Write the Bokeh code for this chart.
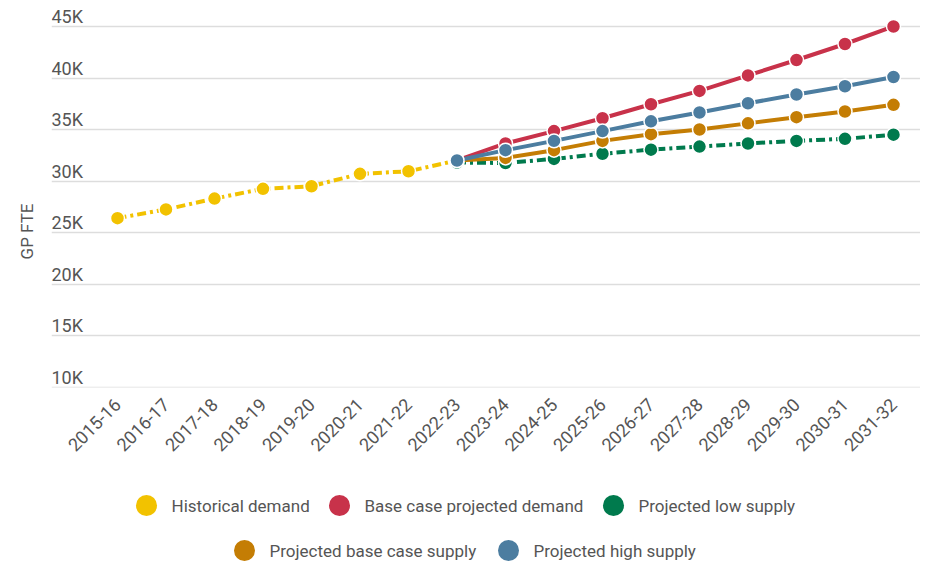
import math
from bokeh.plotting import figure
from bokeh.models import Range1d, FixedTicker, ColumnDataSource
from bokeh.layouts import column, row
from bokeh.core.properties import value
from bokeh.embed import file_html
from bokeh.resources import INLINE

# ---- data ----
years = ["2015-16", "2016-17", "2017-18", "2018-19", "2019-20", "2020-21", "2021-22",
         "2022-23", "2023-24", "2024-25", "2025-26", "2026-27", "2027-28", "2028-29",
         "2029-30", "2030-31", "2031-32"]
historical_years = years[:8]
historical_demand = [26400, 27250, 28300, 29250, 29500, 30700, 30950, 32000]
projected_years = years[7:]
base_case_projected_demand = [32000, 33650, 34850, 36100, 37450, 38750, 40250, 41750, 43300, 45000]
projected_low_supply = [31800, 31750, 32150, 32650, 33050, 33350, 33650, 33900, 34100, 34500]
projected_base_case_supply = [32000, 32250, 33000, 33900, 34550, 35000, 35600, 36200, 36750, 37400]
projected_high_supply = [32000, 33000, 33900, 34850, 35800, 36650, 37550, 38400, 39200, 40100]
y_ticks = [10000, 15000, 20000, 25000, 30000, 35000, 40000, 45000]
y_tick_labels = ["10K", "15K", "20K", "25K", "30K", "35K", "40K", "45K"]
y_title = "GP FTE"

series_names = ["Historical demand", "Base case projected demand", "Projected low supply",
                "Projected base case supply", "Projected high supply"]
series_colors = ["#F2C200", "#C8324A", "#007A4D", "#C47D04", "#4C7DA0"]

FONT = "Roboto"
TXT = "#555555"

idx = {y: i for i, y in enumerate(years)}

TOP_H = 470
TITLE_W = 45
FRAME_TOP, FRAME_BOTTOM = 8, 387

# ---- y-axis title panel (its frame is aligned with the main frame by the row) ----
tfig = figure(width=TITLE_W, height=TOP_H, x_range=Range1d(0, TITLE_W),
              y_range=Range1d(0, FRAME_BOTTOM - FRAME_TOP),
              output_backend="svg", toolbar_location=None,
              min_border_left=0, min_border_right=0, min_border_top=FRAME_TOP,
              min_border_bottom=TOP_H - FRAME_BOTTOM)
tfig.outline_line_color = None
tfig.xaxis.visible = False
tfig.yaxis.visible = False
tfig.grid.visible = False
tfig.text(x=[26], y=[FRAME_BOTTOM - 231], text=[y_title], angle=math.pi / 2,
          text_font=value(FONT), text_font_size="17px", text_color=TXT,
          text_align="center", text_baseline="middle")

# ---- main chart ----
p = figure(width=920 - TITLE_W, height=TOP_H,
           x_range=Range1d(-1.3608, 16.557), y_range=Range1d(9970, 46745),
           output_backend="svg", toolbar_location=None,
           min_border_left=51 - TITLE_W, min_border_right=0, min_border_top=FRAME_TOP,
           min_border_bottom=TOP_H - FRAME_BOTTOM)
p.outline_line_color = None
p.yaxis.visible = False
p.xgrid.visible = False
p.ygrid.ticker = FixedTicker(ticks=y_ticks)
p.ygrid.grid_line_color = "#DDDDDD"
p.ygrid.grid_line_width = 1.5

xa = p.xaxis[0]
xa.ticker = FixedTicker(ticks=list(range(len(years))))
xa.major_label_overrides = {i: y for i, y in enumerate(years)}
xa.major_label_orientation = math.pi / 4
xa.axis_line_color = None
xa.major_tick_line_color = None
xa.minor_tick_line_color = None
xa.major_label_text_font = FONT
xa.major_label_text_font_size = "18px"
xa.major_label_text_color = TXT
xa.major_label_standoff = 8

# y tick labels above gridlines
tick_src = ColumnDataSource(dict(x=[p.x_range.start] * len(y_ticks), y=y_ticks, t=y_tick_labels))
p.text(x="x", y="y", text="t", source=tick_src, text_font=value(FONT), text_font_size="18px",
       text_color=TXT, text_align="left", text_baseline="middle", y_offset=-10)

dash = "9 4 3 4"
all_series = [
    (historical_years, historical_demand, series_colors[0], dash),
    (projected_years, base_case_projected_demand, series_colors[1], "solid"),
    (projected_years, projected_low_supply, series_colors[2], dash),
    (projected_years, projected_base_case_supply, series_colors[3], "solid"),
    (projected_years, projected_high_supply, series_colors[4], "solid"),
]
for yrs, vals, col, ld in all_series:
    src = ColumnDataSource(dict(x=[idx[y] for y in yrs], y=vals))
    p.line("x", "y", source=src, line_color=col, line_width=4, line_dash=ld)
    p.scatter("x", "y", source=src, size=14, fill_color=col, line_color="white", line_width=1.5)

# ---- legend (separate panel, page coordinates) ----
LEG_H = 92
leg = figure(width=920, height=LEG_H, x_range=Range1d(0, 920), y_range=Range1d(TOP_H + LEG_H, TOP_H),
             output_backend="svg", toolbar_location=None,
             min_border_left=0, min_border_right=0, min_border_top=0, min_border_bottom=0)
leg.outline_line_color = None
leg.xaxis.visible = False
leg.yaxis.visible = False
leg.grid.visible = False
leg_x = [146, 339, 613, 244, 508]
leg_y = [505, 505, 505, 550, 550]
lsrc = ColumnDataSource(dict(x=leg_x, y=leg_y, c=series_colors, t=series_names,
                             tx=[v + 25 for v in leg_x]))
leg.scatter("x", "y", source=lsrc, size=21, fill_color="c", line_color=None)
leg.text(x="tx", y="y", text="t", source=lsrc, text_font=value(FONT), text_font_size="17px",
         text_color=TXT, text_align="left", text_baseline="middle")

layout = column(row(tfig, p), leg)
open("out.html", "w").write(file_html(layout, INLINE))
